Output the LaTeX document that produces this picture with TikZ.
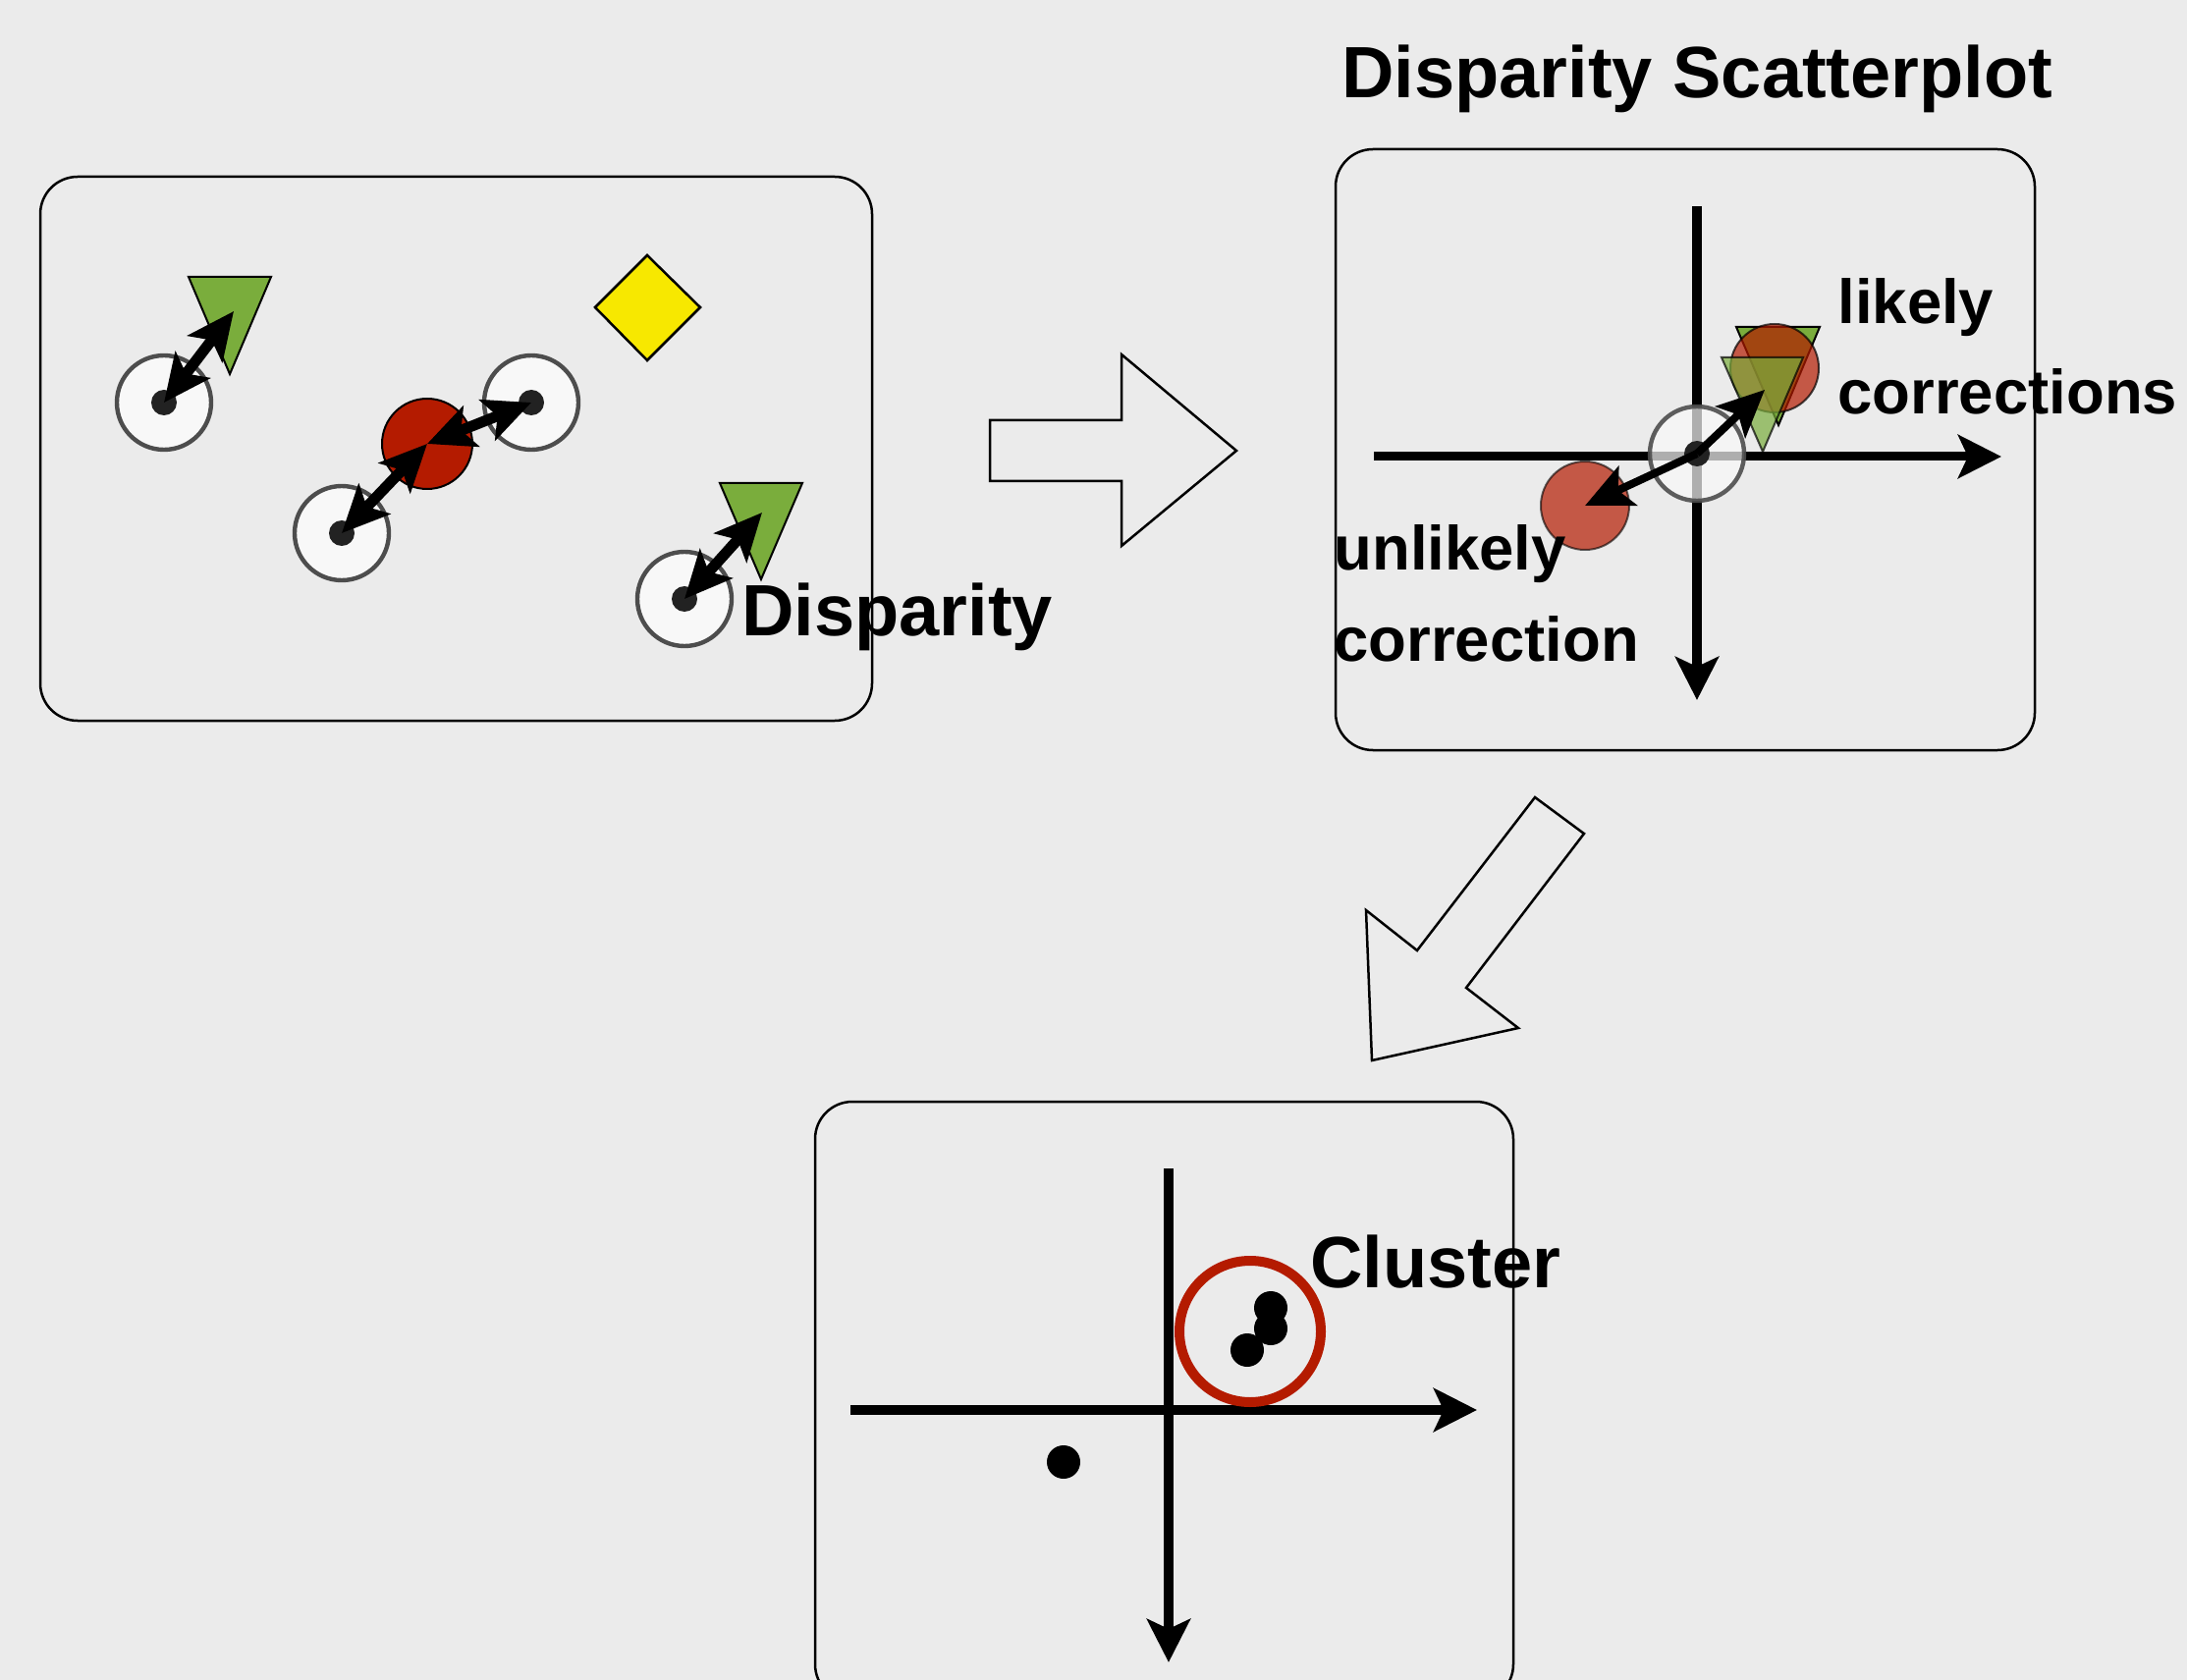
\documentclass[tikz,border=0pt]{standalone}
\usepackage{fontspec}
\setmainfont{Liberation Sans}
\usetikzlibrary{arrows.meta}

\definecolor{bg}{HTML}{EBEBEB}
\definecolor{leaf}{RGB}{122,173,60}
\definecolor{brick}{RGB}{180,27,0}
\definecolor{lemon}{HTML}{F7E800}
\definecolor{ringgray}{HTML}{4D4D4D}
\definecolor{ringfill}{HTML}{F8F8F8}
\definecolor{dotgray}{HTML}{222222}

\begin{document}
\begin{tikzpicture}[x=0.5pt,y=-0.5pt,
  panel/.style={draw=black,line width=1.25pt,rounded corners=19pt},
  ring/.style={circle,draw=ringgray,fill=ringfill,line width=2.2pt,minimum size=48pt,inner sep=0pt},
  ringdot/.style={circle,fill=dotgray,minimum size=13pt,inner sep=0pt},
  redball/.style={circle,draw=black,fill=brick,line width=1pt,minimum size=46pt,inner sep=0pt},
  tri/.style={draw=black,fill=leaf,line width=1pt,line join=miter},
  gem/.style={draw=black,fill=lemon,line width=1.25pt,line join=miter},
  bigtip/.tip={Stealth[length=24pt,width=22pt,inset=5.5pt]},
  twoway/.style={line width=5.5pt,{bigtip}-{bigtip}},
  oneway/.style={line width=4pt,-{bigtip}},
  axis/.style={line width=4.5pt,-{Stealth[length=22pt,width=22pt,inset=5pt]}},
  blockarrow/.style={draw=black,line width=1.25pt,line join=miter},
  big/.style={font=\fontsize{37pt}{44pt}\selectfont\bfseries,inner sep=0pt,anchor=base west},
  small/.style={font=\fontsize{31.75pt}{40pt}\selectfont\bfseries,inner sep=0pt,anchor=base west},
  clusterdot/.style={circle,fill=black,minimum size=17pt,inner sep=0pt}
]
\fill[bg] (0,0) rectangle (2227,1711);
\clip (0,0) rectangle (2227,1711);

% ---------- panel 1: points and their disparities ----------
\draw[panel] (41,180) rectangle (888,734);

\draw[tri] (192,282) -- (276,282) -- (234,381) -- cycle;
\coordinate (t1) at (238,317);
\draw[tri] (733,492) -- (817,492) -- (775,590) -- cycle;
\coordinate (t2) at (776,522);
\draw[gem] (659,260) -- (713,313) -- (659,367) -- (606,313) -- cycle;

\node[ring] (c1) at (167,410) {};
\node[ring] (c2) at (541,410) {};
\node[ring] (c3) at (348,543) {};
\node[ring] (c4) at (697,610) {};
\foreach \c in {c1,c2,c3,c4} \node[ringdot] at (\c) {};
\node[redball] (rd) at (435,452) {};

\draw[twoway] (c1.center) -- (t1);
\draw[twoway] (c3.center) -- (rd.center);
\draw[twoway] (rd.center) -- (c2.center);
\draw[twoway] (c4.center) -- (t2);

\node[big] (lbldisp) at (755,647) {Disparity};

% ---------- block arrows ----------
\draw[blockarrow] (1008,428) -- (1142,428) -- (1142,361) -- (1259,459)
  -- (1142,556) -- (1142,490) -- (1008,490) -- cycle;
\draw[blockarrow] (1563,812) -- (1613,849) -- (1493,1006) -- (1546,1047)
  -- (1397,1080) -- (1391,927) -- (1443,968) -- cycle;

% ---------- panel 2: disparity scatterplot ----------
\node[big] (title) at (1366,100) {Disparity Scatterplot};
\draw[panel] (1360,152) rectangle (2072,764);

\coordinate (sxa) at (1399,465);
\coordinate (sxb) at (2038,465);
\coordinate (sya) at (1728,210);
\coordinate (syb) at (1728,713);
\draw[axis,line width=4.5pt] (sxa) -- (sxb);
\draw[axis,line width=5pt] (sya) -- (syb);

\draw[tri] (1768,333) -- (1853,333) -- (1811,433) -- cycle;
\node[redball,fill opacity=0.7,draw opacity=0.7,minimum size=45pt] (rup) at (1807,375) {};
\draw[tri,fill opacity=0.7,draw opacity=0.7] (1753,364) -- (1836,364) -- (1795,460) -- cycle;
\coordinate (tb) at (1797,397);
\node[redball,fill=brick,fill opacity=0.7,draw=black,draw opacity=0.6,minimum size=45pt] (rlo) at (1614,515) {};
\node[ring,fill opacity=0.7,draw opacity=0.9] (w) at (1728,462) {};
\node[ringdot] at (w) {};

\draw[oneway] (w.center) -- (tb);
\draw[oneway] (w.center) -- (rlo.center);

\node[small] (lk1) at (1871,330) {likely};
\node[small] (lk2) at (1871,422) {corrections};
\node[small] (ul1) at (1358,581) {unlikely};
\node[small] (ul2) at (1358,673) {correction};

% ---------- panel 3: clustering ----------
\draw[panel] (830,1122) rectangle (1541,1733);
\coordinate (cxa) at (866,1436);
\coordinate (cxb) at (1504,1436);
\coordinate (cya) at (1190,1190);
\coordinate (cyb) at (1190,1693);
\draw[axis,line width=5pt] (cxa) -- (cxb);
\draw[axis,line width=5pt] (cya) -- (cyb);

\node[circle,draw=brick,line width=5pt,minimum size=72pt,inner sep=0pt] (clu) at (1273,1356) {};
\node[clusterdot] (k1) at (1294,1332) {};
\node[clusterdot] (k2) at (1294,1353) {};
\node[clusterdot] (k3) at (1270,1375) {};
\node[clusterdot] (k4) at (1083,1489) {};

\node[big] (lblclu) at (1334,1311) {Cluster};
\end{tikzpicture}
\end{document}
